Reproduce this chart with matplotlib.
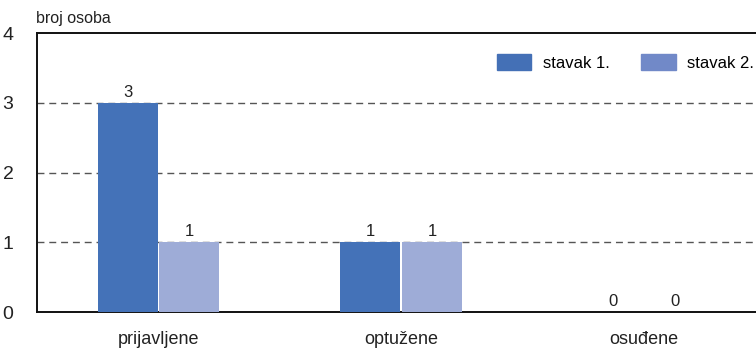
import numpy as np
import matplotlib
matplotlib.use('Agg')
import matplotlib.pyplot as plt
from matplotlib.patches import Patch

plt.rcParams['font.family'] = ['Liberation Sans Narrow', 'Liberation Sans', 'DejaVu Sans']

categories = ['prijavljene', 'optužene', 'osuđene']
series_names = ['stavak 1.', 'stavak 2.']
stavak1 = [3, 1, 0]
stavak2 = [1, 1, 0]

bar_colors = ['#4472b8', '#9eacd7']
legend_colors = ['#4470b6', '#7189c8']

fig = plt.figure(figsize=(7.56, 3.52), dpi=100)
ax = fig.add_axes([0.049, 0.1136, 0.951, 0.7926])

x = np.arange(len(categories))
w = 0.247
gap = 0.004
for vals, off, col in [(stavak1, -w / 2 - gap, bar_colors[0]),
                       (stavak2, w / 2 + gap, bar_colors[1])]:
    bars = ax.bar(x + off, vals, width=w, color=col, zorder=3)
    for b, v in zip(bars, vals):
        ax.text(b.get_x() + b.get_width() / 2, v + 0.04, str(v),
                ha='center', va='bottom', fontsize=12, color='#222222')

ax.set_xlim(-0.5, 2.46)
ax.set_ylim(0, 4)
ax.set_yticks([0, 1, 2, 3, 4])
ax.set_xticks(x)
ax.set_xticklabels(categories, fontsize=13)
ax.tick_params(axis='both', length=0, colors='#222222')
ax.tick_params(axis='y', pad=17, labelsize=14)
ax.tick_params(axis='x', pad=14)

for yv in [1, 2, 3]:
    ax.axhline(yv, color='#555555', lw=1, ls=(0, (5, 3.5)), zorder=1)

for s in ['left', 'top', 'bottom']:
    ax.spines[s].set_linewidth(1.4)
    ax.spines[s].set_color('#111111')
ax.spines['right'].set_visible(False)

handles = [Patch(color=c) for c in legend_colors]
ax.legend(handles, series_names, loc='upper left', bbox_to_anchor=(0.64, 0.925),
          ncol=2, frameon=False, fontsize=12, handlelength=2.05, handleheight=1.15,
          columnspacing=1.9, handletextpad=0.7, borderpad=0, borderaxespad=0)

fig.text(0.047, 0.925, 'broj osoba', fontsize=11.5, color='#222222',
         ha='left', va='bottom')

fig.savefig('out.png', dpi=100)
